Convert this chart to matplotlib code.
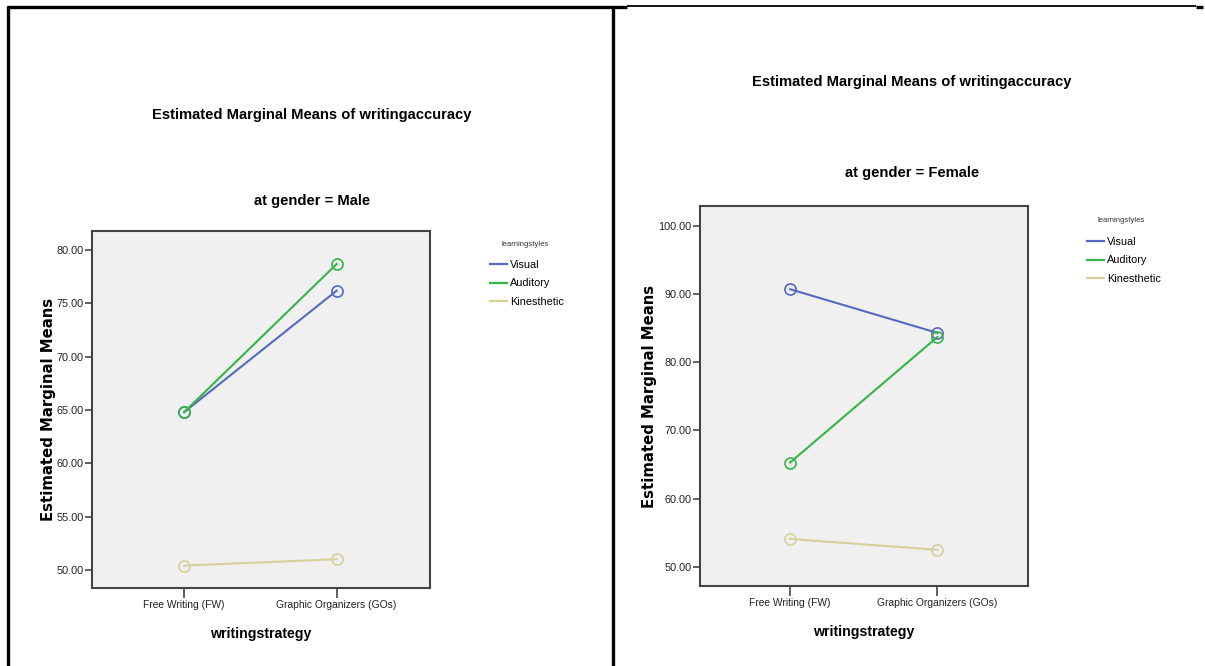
import matplotlib
matplotlib.use('Agg')
import matplotlib.pyplot as plt
from matplotlib.lines import Line2D

# data
strategies = ['Free Writing (FW)', 'Graphic Organizers (GOs)']
styles = ['Visual', 'Auditory', 'Kinesthetic']
male_visual = [64.8, 76.2]
male_auditory = [64.8, 78.7]
male_kinesthetic = [50.4, 51.0]
female_visual = [90.7, 84.3]
female_auditory = [65.3, 83.7]
female_kinesthetic = [54.1, 52.5]
male_yticks = [50, 55, 60, 65, 70, 75, 80]
female_yticks = [50, 60, 70, 80, 90, 100]

colors = ['#5469c0', '#35b548', '#d6d09a']
narrow = ['Liberation Sans Narrow', 'Liberation Sans', 'DejaVu Sans']
bold_lab = ['DejaVu Sans', 'Liberation Sans']

W, H = 1205, 666
fig = plt.figure(figsize=(W / 100, H / 100), dpi=100)


def px_axes(x0, y0, x1, y1):
    return fig.add_axes([x0 / W, 1 - y1 / H, (x1 - x0) / W, (y1 - y0) / H])


def draw_panel(ax, series, yticks, ylim, xlim, ylab_x):
    ax.set_facecolor('#f0f0f0')
    for vals, name, c in zip(series, styles, colors):
        ax.plot([0, 1], vals, color=c, lw=1.5, marker='o', ms=8,
                mfc='none', mec=c, mew=1.2, label=name)
    ax.set_xlim(*xlim)
    ax.set_ylim(*ylim)
    ax.set_xticks([0, 1])
    ax.set_xticklabels(strategies, family=narrow, fontsize=7.4, color='#222222')
    ax.set_yticks(yticks)
    ax.set_yticklabels(['%.2f' % v for v in yticks], family=narrow,
                       fontsize=7.8, color='#222222')
    ax.tick_params(axis='both', direction='out', length=5, width=1.2,
                   color='#444444', pad=1)
    ax.tick_params(axis='x', length=7, pad=2)
    for s in ax.spines.values():
        s.set_color('#444444')
        s.set_linewidth(1.5)
    ax.set_ylabel('Estimated Marginal Means', family=bold_lab,
                  fontweight='bold', fontsize=10.7)
    ax.yaxis.set_label_coords(ylab_x, 0.5)
    ax.set_xlabel('writingstrategy', family=narrow, fontweight='bold',
                  fontsize=10.2, labelpad=12)


def add_legend(ax, tx, ty, x, y):
    handles = [Line2D([], [], color=c, lw=1.6) for c in colors]
    fig.text(tx / W, 1 - ty / H, 'learningstyles', ha='center', va='center',
             family=narrow, fontsize=5.5, color='#333333')
    ax.legend(handles, styles, loc='upper left',
              bbox_to_anchor=(x / W, 1 - y / H),
              bbox_transform=fig.transFigure, frameon=False,
              prop={'family': narrow, 'size': 7.8},
              handlelength=1.6, handletextpad=0.25, labelspacing=0.78,
              borderaxespad=0, borderpad=0)


# left panel: Male
ax1 = px_axes(92, 231, 430, 588)
draw_panel(ax1, [male_visual, male_auditory, male_kinesthetic],
           male_yticks, (48.3, 81.8), (-0.604, 1.612), -0.107)
fig.text(312 / W, 1 - 115 / H, 'Estimated Marginal Means of writingaccuracy',
         ha='center', va='center', family=narrow, fontweight='bold', fontsize=10.6)
fig.text(312 / W, 1 - 201 / H, 'at gender = Male',
         ha='center', va='center', family=narrow, fontweight='bold', fontsize=10.6)
add_legend(ax1, 525, 245, 490, 260)

# right panel: Female
ax2 = px_axes(700, 206, 1028, 586)
draw_panel(ax2, [female_visual, female_auditory, female_kinesthetic],
           female_yticks, (47.2, 102.9), (-0.612, 1.615), -0.132)
fig.text(912 / W, 1 - 82 / H, 'Estimated Marginal Means of writingaccuracy',
         ha='center', va='center', family=narrow, fontweight='bold', fontsize=10.6)
fig.text(912 / W, 1 - 173 / H, 'at gender = Female',
         ha='center', va='center', family=narrow, fontweight='bold', fontsize=10.6)
add_legend(ax2, 1121, 220, 1087, 237)

# table borders around the two cells
def border(xs, ys, lw):
    fig.add_artist(Line2D([x / W for x in xs], [1 - y / H for y in ys],
                          color='black', lw=lw, solid_capstyle='butt'))


border([8, 8], [6, 666], 2.4)
border([7, 627], [7, 7], 2.4)
border([613, 613], [6, 666], 2.4)
border([627, 1196], [6, 6], 1.3)
border([1196, 1203], [7, 7], 2.4)

fig.savefig('out.png', dpi=100)
